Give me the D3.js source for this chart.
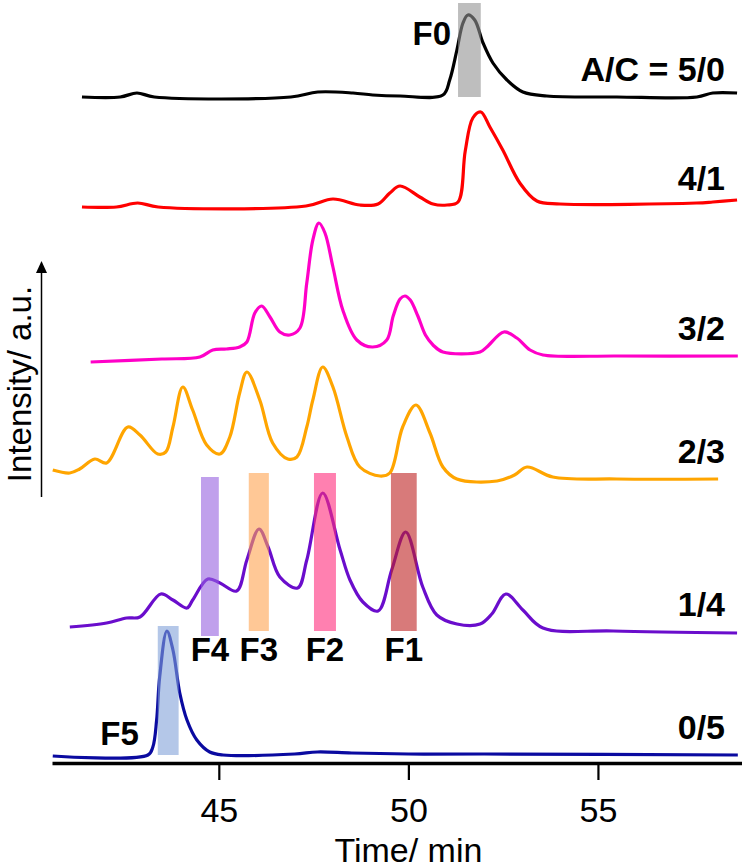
<!DOCTYPE html>
<html>
<head>
<meta charset="utf-8">
<script src="https://cdn.jsdelivr.net/npm/d3@7"></script>
<style>
  html, body { margin: 0; padding: 0; background: #fff; }
  svg { display: block; font-family: "Liberation Sans", Arial, sans-serif; }
</style>
</head>
<body>
<svg id="chart" width="742" height="868"></svg>
<script>
// chromatogram traces: [time (min), intensity (a.u.) above the trace baseline]
const s50 = [[41.39,0],[42.4,0],[42.84,4],[43.3,0],[46.9,0],[47.61,5],[48.54,4],[49.06,2],[49.78,1],
  [50.91,2],[51.09,17],[51.28,47],[51.44,74],[51.57,82],[51.75,77],[51.97,54],[52.23,34],[52.6,17],
  [53.02,5],[53.65,1],[55.5,0],[57.61,0],[58.03,4],[58.67,4]];
const s41 = [[41.39,-1],[42.3,-1],[42.86,3],[43.4,-1],[47.3,0],[48.01,7],[48.72,1],[49.2,2],[49.51,13],
  [49.78,20],[50.3,9],[50.65,2],[51.02,1],[51.31,4],[51.5,55],[51.7,88],[51.91,94],[52.15,79],
  [52.49,56],[52.94,23],[53.39,5],[54.0,2],[57.6,3],[58.03,4],[58.67,6]];
const s32 = [[41.62,-6],[43.5,-3],[44.5,-1],[44.84,6],[45.2,7],[45.55,9],[45.74,14],[45.95,43],[46.13,50],
  [46.35,39],[46.61,24],[46.87,21],[47.14,28],[47.32,73],[47.48,116],[47.64,133],[47.8,123],[48.01,89],
  [48.27,46],[48.64,16],[49.06,9],[49.43,16],[49.6,40],[49.78,57],[49.91,60],[50.05,56],[50.25,40],
  [50.45,21],[50.65,11],[50.91,4],[51.89,4],[52.07,9],[52.52,24],[52.86,18],[53.21,6],[53.55,1],
  [55.5,0],[58.69,0]];
const s23 = [[40.62,9],[41.07,6],[41.33,10],[41.73,20],[42.04,16],[42.6,52],[42.92,44],[43.39,25],[43.6,27],
  [43.79,52],[44.05,92],[44.31,69],[44.68,34],[45.03,25],[45.29,42],[45.55,86],[45.74,107],[46.08,79],
  [46.42,36],[46.82,20],[47.06,22],[47.32,52],[47.48,79],[47.74,112],[48.01,92],[48.38,42],[48.72,12],
  [49.25,3],[49.51,6],[49.85,52],[50.2,74],[50.57,46],[50.91,12],[51.28,0],[52.34,-2],[52.8,4],
  [53.13,12],[53.81,2],[55.5,0],[58.17,0]];
const s14 = [[41.07,5],[42.04,9],[42.57,14],[42.92,15],[43.47,38],[43.79,32],[44.16,24],[44.31,32],[44.71,53],
  [45.03,49],[45.47,41],[45.74,72],[46.06,103],[46.3,85],[46.61,55],[47.08,44],[47.32,72],[47.74,139],
  [48.2,82],[48.46,52],[48.8,30],[49.2,21],[49.56,62],[49.93,100],[50.38,45],[50.75,17],[51.28,8],
  [51.89,8],[52.2,18],[52.57,38],[53.02,22],[53.55,4],[55.4,1],[58.67,-1]];
const s05 = [[40.62,-1],[43.13,0],[43.26,8],[43.36,35],[43.44,78],[43.63,124],[43.79,105],[43.97,62],
  [44.16,35],[44.42,15],[44.76,3],[45.11,0],[47.0,1],[47.6,3],[48.5,2],[50,1],[52,1],[58.69,0]];

const seriesNames   = ["A/C = 5/0", "4/1", "3/2", "2/3", "1/4", "0/5"];
const seriesData    = [s50, s41, s32, s23, s14, s05];
const seriesOffsets = [666, 557, 407, 284, 131, 8];   // stacking offset of each trace (a.u.)

// collected fractions: time window and the trace they sit on
const fracNames  = ["F0", "F1", "F2", "F3", "F4", "F5"];
const fracStart  = [51.31, 49.54, 47.51, 45.79, 44.53, 43.39];
const fracEnd    = [51.91, 50.22, 48.09, 46.32, 45.00, 43.94];
const fracSeries = [0, 4, 4, 4, 4, 5];
const fracLow    = [0, 1, 1, 1, -4, 0];
const fracHigh   = [94, 159, 159, 159, 155, 129];

const xTicks = [45, 50, 55];

// styles
const lineColors = ["#000000", "#ff0000", "#ff00c8", "#ffa500", "#6a0dcc", "#0a0aa0"];
const fracColors = ["#939393", "#be2121", "#ff2b7b", "#ffa350", "#9661df", "#82a2d9"];

const svg = d3.select("#chart");

const x = d3.scaleLinear().domain([40.6, 58.8]).range([52, 742]);
const y = d3.scaleLinear().domain([0, 763]).range([763, 0]);

const line = d3.line()
  .x(d => x(d[0]))
  .y(d => y(d[1]))
  .curve(d3.curveCatmullRom.alpha(0.5));

// traces
seriesData.forEach((s, i) => {
  svg.append("path")
    .datum(s.map(d => [d[0], d[1] + seriesOffsets[i]]))
    .attr("fill", "none")
    .attr("stroke", lineColors[i])
    .attr("stroke-width", 3.2)
    .attr("stroke-linejoin", "round")
    .attr("d", line);
});

// fraction boxes on top, semi transparent
fracNames.forEach((f, i) => {
  const off = seriesOffsets[fracSeries[i]];
  svg.append("rect")
    .attr("x", x(fracStart[i]))
    .attr("width", x(fracEnd[i]) - x(fracStart[i]))
    .attr("y", y(off + fracHigh[i]))
    .attr("height", y(off + fracLow[i]) - y(off + fracHigh[i]))
    .attr("fill", fracColors[i])
    .attr("fill-opacity", 0.6);

  const lbl = svg.append("text")
    .attr("font-size", 33)
    .attr("font-weight", "bold")
    .attr("fill", "#000")
    .text(f);
  if (f === "F0") {
    lbl.attr("x", x(fracStart[i]) - 7).attr("y", y(off + fracHigh[i]) + 42).attr("text-anchor", "end");
  } else if (f === "F5") {
    lbl.attr("x", x(fracStart[i]) - 19).attr("y", y(off) - 10).attr("text-anchor", "end");
  } else {
    lbl.attr("x", (x(fracStart[i]) + x(fracEnd[i])) / 2).attr("y", y(off) + 29).attr("text-anchor", "middle");
  }
});

// trace labels
seriesNames.forEach((n, i) => {
  svg.append("text")
    .attr("x", 725)
    .attr("y", y(seriesOffsets[i]) - 16)
    .attr("text-anchor", "end")
    .attr("font-size", 34)
    .attr("font-weight", "bold")
    .text(n);
});

// x axis
const xAxis = svg.append("g")
  .attr("transform", `translate(0,${y(0)})`)
  .call(d3.axisBottom(x).tickValues(xTicks).tickSize(17).tickSizeOuter(0).tickPadding(18));
xAxis.select(".domain").attr("stroke", "#000").attr("stroke-width", 3.5);
xAxis.selectAll(".tick line").attr("stroke", "#000").attr("stroke-width", 2.2);
xAxis.selectAll(".tick text")
  .attr("font-size", 34)
  .attr("font-family", "'Liberation Sans', Arial, sans-serif")
  .attr("fill", "#000");

svg.append("text")
  .attr("x", x(50))
  .attr("y", 862)
  .attr("text-anchor", "middle")
  .attr("font-size", 34)
  .text("Time/ min");

// intensity arrow
svg.append("line")
  .attr("x1", 41.5).attr("x2", 41.5)
  .attr("y1", 497).attr("y2", 270)
  .attr("stroke", "#000").attr("stroke-width", 1.5);
svg.append("path")
  .attr("d", "M41.5,261 L36,273 L47,273 Z")
  .attr("fill", "#000");

svg.append("text")
  .attr("transform", "translate(31,384) rotate(-90)")
  .attr("text-anchor", "middle")
  .attr("font-size", 33)
  .text("Intensity/ a.u.");
</script>
</body>
</html>
